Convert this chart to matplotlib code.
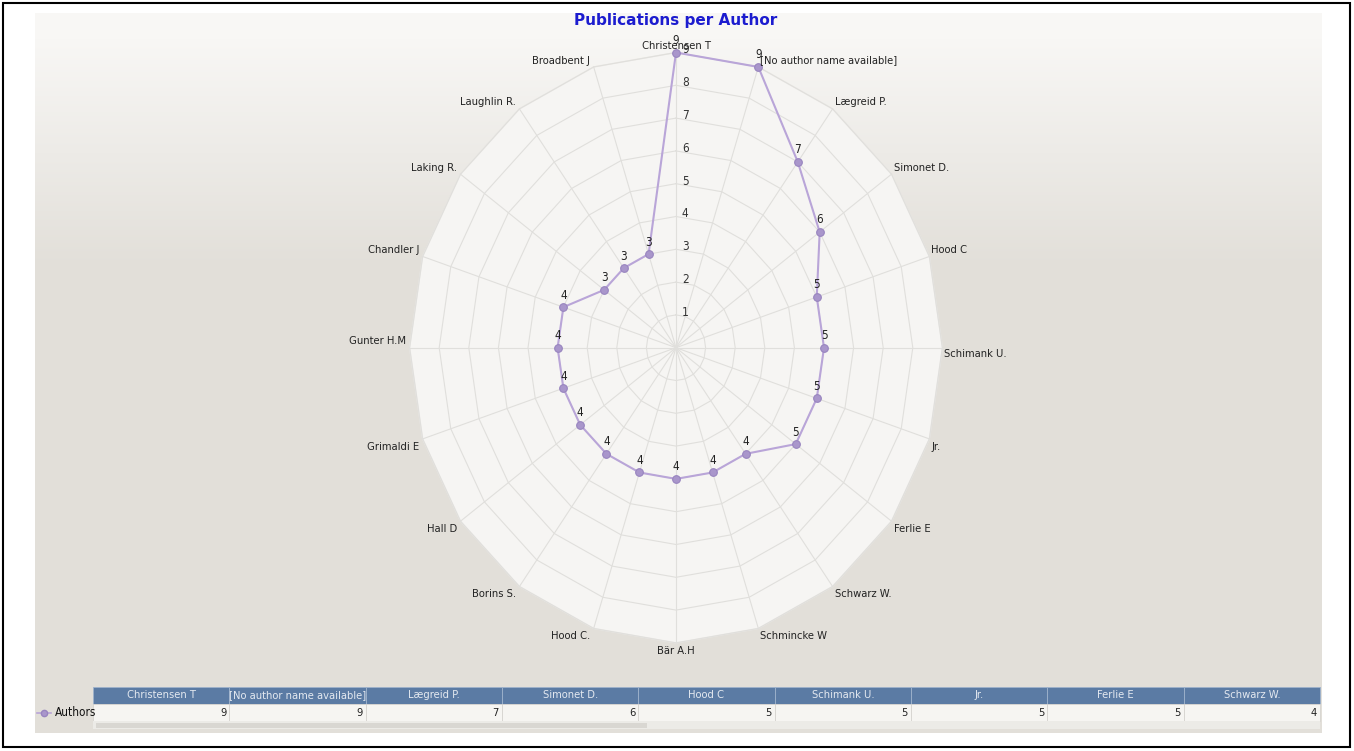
import numpy as np
import matplotlib.pyplot as plt
from matplotlib import font_manager as fm
from matplotlib.patches import Rectangle, Polygon
from matplotlib.colors import LinearSegmentedColormap

# data
authors = ['Christensen T', '[No author name available]', 'Lægreid P.', 'Simonet D.',
           'Hood C', 'Schimank U.', 'Jr.', 'Ferlie E', 'Schwarz W.', 'Schmincke W',
           'Bär A.H', 'Hood C.', 'Borins S.', 'Hall D', 'Grimaldi E', 'Gunter H.M',
           'Chandler J', 'Laking R.', 'Laughlin R.', 'Broadbent J']
pubs = [9, 9, 7, 6, 5, 5, 5, 5, 4, 4, 4, 4, 4, 4, 4, 4, 4, 3, 3, 3]
rings = [1, 2, 3, 4, 5, 6, 7, 8, 9]
series_name = 'Authors'
n_table = 9

# pick a narrow font if one is around
names = {f.name for f in fm.fontManager.ttflist}
fs = 8
if 'Liberation Sans Narrow' in names:
    txt = dict(family='Liberation Sans Narrow')
    fs = 8.5
elif 'Condensed' in fm.findfont(fm.FontProperties(family='DejaVu Sans', stretch='condensed')):
    txt = dict(family='DejaVu Sans', stretch='condensed')
else:
    txt = dict(family='Liberation Sans')
    fs = 7.5

line_col = '#b9a5d8'

fig = plt.figure(figsize=(13.54, 7.51), dpi=100)

# background / frame / table in pixel coordinates
bg = fig.add_axes([0, 0, 1, 1])
bg.set_xlim(0, 1354)
bg.set_ylim(751, 0)
bg.axis('off')

cmap = LinearSegmentedColormap.from_list('panel', ['#f8f7f5', '#e2dfd9'])
yy = np.clip((np.arange(720) - 25) / 230.0, 0, 1).reshape(-1, 1)
bg.imshow(yy, cmap=cmap, aspect='auto', extent=(35, 1322, 733, 13), zorder=0)
bg.add_patch(Rectangle((3, 3), 1347, 744, fill=False, ec='black', lw=1.5, zorder=5))

bg.text(676, 21, 'Publications per Author', ha='center', va='center',
        fontsize=11, fontweight='bold', color='#1c1ccf')

# table
x0, x1 = 93, 1320
cw = (x1 - x0) / n_table
for i in range(n_table):
    cx = x0 + i * cw
    bg.add_patch(Rectangle((cx, 687), cw, 17, fc='#5b7ba4', ec='#9fb3cc', lw=0.6, zorder=2))
    bg.text(cx + cw / 2, 695.5, authors[i], ha='center', va='center', fontsize=fs,
            color='#e4e9f0', zorder=3, **txt)
    bg.add_patch(Rectangle((cx, 704), cw, 17, fc='#f6f5f2', ec='#d6d4cf', lw=0.6, zorder=2))
    bg.text(cx + cw - 3, 713, str(pubs[i]), ha='right', va='center', fontsize=fs,
            color='#222222', zorder=3, **txt)
bg.add_patch(Rectangle((x0, 721), x1 - x0, 8, fc='#ecebe7', ec='none', zorder=2))
bg.add_patch(Rectangle((96, 722.5), 551, 5, fc='#d9d7d2', ec='none', zorder=3))
bg.plot([37, 51], [713, 713], color=line_col, lw=1.2, zorder=3)
bg.plot([44], [713], 'o', ms=4.5, mfc='#a996cb', mec='#9884bf', zorder=4)
bg.text(55, 713, series_name, ha='left', va='center', fontsize=fs + 0.5,
        color='#111111', **txt)

# radar axes (slightly stretched vertically, like the original)
cx_pix, cy_pix = 676, 347.7
sx, sy = 29.6, 32.8
xr, yr = 10.5, 10.3
ax = fig.add_axes([(cx_pix - xr * sx) / 1354, 1 - (cy_pix + yr * sy) / 751,
                   2 * xr * sx / 1354, 2 * yr * sy / 751])
ax.set_xlim(-xr, xr)
ax.set_ylim(-yr, yr)
ax.axis('off')
ax.patch.set_alpha(0)

n = len(authors)
ang = np.arange(n) * 2 * np.pi / n
rmax = max(rings)
ux, uy = np.sin(ang), np.cos(ang)

ax.add_patch(Polygon(np.column_stack([rmax * ux, rmax * uy]), closed=True,
                     fc='#f6f5f3', ec='#eceae6', lw=1, zorder=1))
for r in rings:
    ax.plot(np.append(r * ux, r * ux[0]), np.append(r * uy, r * uy[0]),
            color='#e0dfdc', lw=0.8, zorder=2)
for a, b in zip(ux, uy):
    ax.plot([0, rmax * a], [0, rmax * b], color='#e0dfdc', lw=0.8, zorder=2)
for r in rings:
    ax.text(0.2, r + 0.08, str(r), ha='left', va='center', fontsize=fs + 0.5,
            color='#333333', zorder=3, **txt)

vals = np.array(pubs, dtype=float)
px, py = vals * ux, vals * uy
ax.plot(np.append(px, px[0]), np.append(py, py[0]), color=line_col, lw=1.5, zorder=4)
ax.plot(px, py, 'o', ms=5.5, mfc='#a996cb', mec='#9884bf', mew=0.8, zorder=5)
for v, a, b in zip(pubs, px, py):
    ax.annotate(str(v), (a, b), xytext=(0, 4), textcoords='offset points',
                ha='center', va='bottom', fontsize=fs + 0.5, color='#222222',
                zorder=6, **txt)

for name, a, b in zip(authors, ux, uy):
    if abs(a) < 0.01:
        ha = 'center'
    elif a > 0:
        ha = 'left'
    else:
        ha = 'right'
    if b > 0.01:
        va, dy = 'bottom', 1
    elif b < -0.01:
        va, dy = 'top', -2
    elif a > 0:
        va, dy = 'top', -1
    else:
        va, dy = 'bottom', 1
    dx = 0 if ha == 'center' else (1.5 if a > 0 else -2.5)
    ax.annotate(name, (rmax * a, rmax * b), xytext=(dx, dy), textcoords='offset points',
                ha=ha, va=va, fontsize=fs, color='#222222',
                annotation_clip=False, zorder=6, **txt)

fig.savefig('out.png', dpi=100)
